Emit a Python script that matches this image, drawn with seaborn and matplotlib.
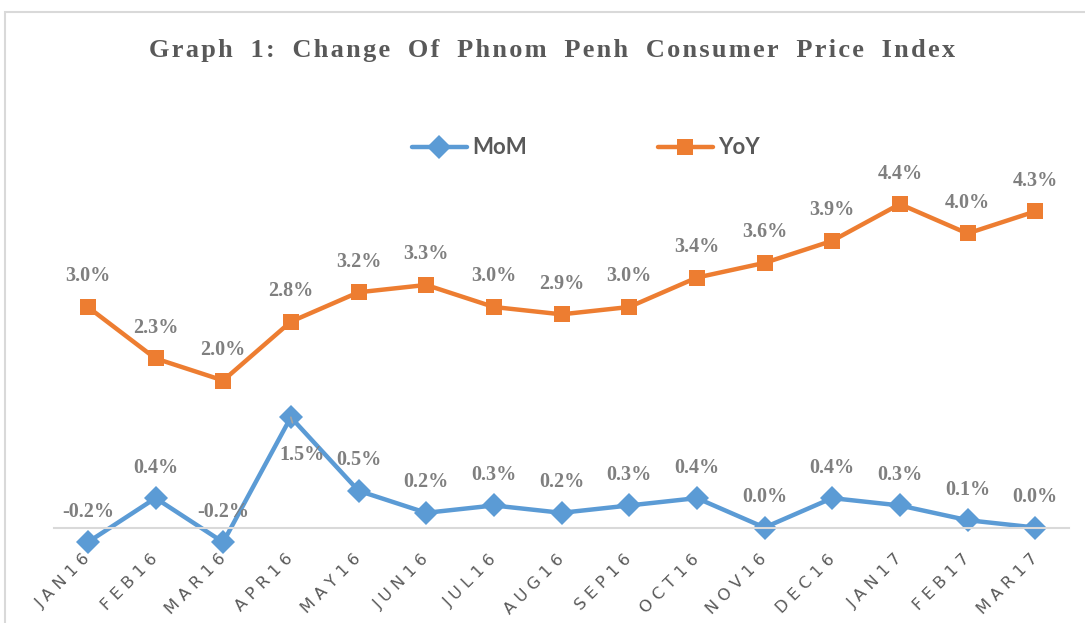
import matplotlib
matplotlib.use("Agg")
import matplotlib.pyplot as plt
from matplotlib.lines import Line2D
from matplotlib.patches import Rectangle
import seaborn as sns
import pandas as pd

months = ["JAN16", "FEB16", "MAR16", "APR16", "MAY16", "JUN16", "JUL16", "AUG16",
          "SEP16", "OCT16", "NOV16", "DEC16", "JAN17", "FEB17", "MAR17"]
mom = [-0.2, 0.4, -0.2, 1.5, 0.5, 0.2, 0.3, 0.2, 0.3, 0.4, 0.0, 0.4, 0.3, 0.1, 0.0]
yoy = [3.0, 2.3, 2.0, 2.8, 3.2, 3.3, 3.0, 2.9, 3.0, 3.4, 3.6, 3.9, 4.4, 4.0, 4.3]

BLUE, ORANGE = "#5B9BD5", "#ED7D31"
LABEL_GREY, TEXT_GREY = "#7F7F7F", "#595959"

sns.set_style("white")
plt.rcParams['font.family'] = ['DejaVu Sans']

df = pd.DataFrame({
    "idx": list(range(len(months))) * 2,
    "value": mom + yoy,
    "series": ["MoM"] * len(months) + ["YoY"] * len(months),
})

W, H = 1085, 623
fig = plt.figure(figsize=(W / 100, H / 100), dpi=100)
# axes placed so that x=-0.5..14.5 spans px 54..1069, y px 100..580
ax = fig.add_axes([54 / W, 1 - 580 / H, (1069 - 54) / W, 480 / H])

sns.lineplot(data=df, x="idx", y="value", hue="series", style="series",
             markers={"MoM": "D", "YoY": "s"}, dashes=False,
             palette={"MoM": BLUE, "YoY": ORANGE}, linewidth=3.2,
             markersize=12, markeredgewidth=0, legend=False, ax=ax)

ax.set_xlim(-0.5, 14.5)
ax.set_ylim(-0.714, 5.816)
ax.set_xlabel("")
ax.set_ylabel("")
ax.set_yticks([])
for s in ["top", "left", "right"]:
    ax.spines[s].set_visible(False)
ax.spines["bottom"].set_position(("data", 0))
ax.spines["bottom"].set_color("#D9D9D9")
ax.spines["bottom"].set_linewidth(1.5)

ax.set_xticks(range(len(months)))
ax.set_xticklabels([" ".join(m) for m in months])
ax.tick_params(axis="x", length=0, pad=21, labelsize=11.8, labelcolor=TEXT_GREY)
for t in ax.get_xticklabels():
    t.set_rotation(45)
    t.set_ha("right")
    t.set_va("center")
    t.set_rotation_mode("anchor")

# data labels
lab_font = dict(family="Liberation Serif", fontweight="bold", fontsize=14.5,
                color=LABEL_GREY, ha="center", va="center")
for i, v in enumerate(yoy):
    ax.annotate(f"{v:.1f}%", (i, v), xytext=(0, 22), textcoords="offset points", **lab_font)
for i, v in enumerate(mom):
    if months[i] == "APR16":
        ax.annotate(f"{v:.1f}%", (i, v), xytext=(8, -27), textcoords="offset points",
                    arrowprops=dict(arrowstyle="-", color="#A6A6A6", lw=1.2,
                                    shrinkA=14, shrinkB=0), **lab_font)
    else:
        ax.annotate(f"{v:.1f}%", (i, v), xytext=(0, 22), textcoords="offset points", **lab_font)

# title (letter spaced, wider word gaps)
title = "\u200a".join("Graph 1: Change Of Phnom Penh Consumer Price Index").replace(" ", "  ")
fig.text(552 / W, 1 - 50 / H, title, family="Liberation Serif", fontweight="bold",
         fontsize=19, color=TEXT_GREY, ha="center", va="center")

# legend
handles = [Line2D([], [], color=BLUE, lw=3.2, marker="D", markersize=12, markeredgewidth=0),
           Line2D([], [], color=ORANGE, lw=3.2, marker="s", markersize=12, markeredgewidth=0)]
fig.legend(handles, ["MoM", "YoY"], loc="center", bbox_to_anchor=(586 / W, 1 - 148 / H),
           ncol=2, frameon=False, handlelength=2.45, handletextpad=0.25, columnspacing=5.9,
           prop=dict(family="Lato", weight="bold", size=16), labelcolor=TEXT_GREY)

# chart area border
fig.patches.append(Rectangle((5 / W, -0.1), 1.2, 1.1 - 12 / H, transform=fig.transFigure,
                             fill=False, edgecolor="#D9D9D9", linewidth=1.5))

fig.savefig("out.png", dpi=100)
